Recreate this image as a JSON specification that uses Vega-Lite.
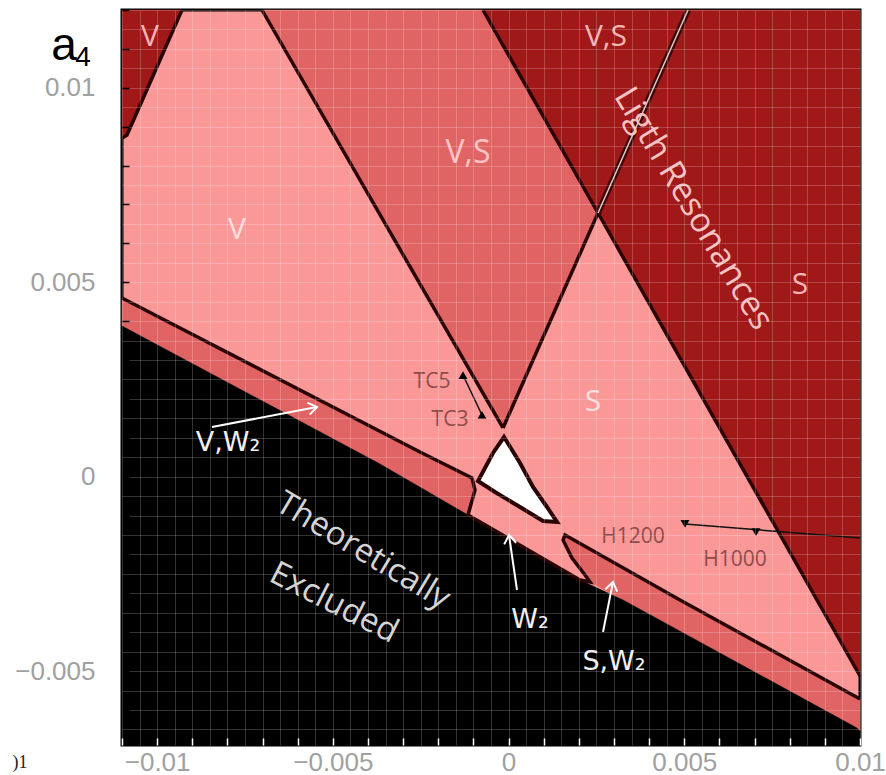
{
 "$schema": "https://vega.github.io/schema/vega-lite/v6.json",
 "width": 738, "height": 735,
 "autosize": {"type": "none"},
 "padding": {"left": 122, "top": 10, "right": 26, "bottom": 30},
 "background": "white",
 "view": {"fill": "#FA9898", "stroke": "#000000", "strokeWidth": 3},
 "datasets": {
  "regions": [
   {"region": "dark", "order": 1, "x": -0.000728, "y": 0.012},
   {"region": "dark", "order": 2, "x": 0.010, "y": 0.012},
   {"region": "dark", "order": 3, "x": 0.010, "y": -0.005126},
   {"region": "dark", "order": 4, "x": 0.002545, "y": 0.006780},
   {"region": "tl", "order": 1, "x": -0.011, "y": 0.012},
   {"region": "tl", "order": 2, "x": -0.009293, "y": 0.012},
   {"region": "tl", "order": 3, "x": -0.010858, "y": 0.008786},
   {"region": "tl", "order": 4, "x": -0.011, "y": 0.008700},
   {"region": "vs", "order": 1, "x": -0.007016, "y": 0.012},
   {"region": "vs", "order": 2, "x": -0.000728, "y": 0.012},
   {"region": "vs", "order": 3, "x": 0.002545, "y": 0.006780},
   {"region": "vs", "order": 4, "x": -0.000159, "y": 0.001252},
   {"region": "vw", "order": 1, "x": -0.011, "y": 0.004594},
   {"region": "vw", "order": 2, "x": -0.002520, "y": 0.000634},
   {"region": "vw", "order": 3, "x": -0.001041, "y": -0.000034},
   {"region": "vw", "order": 4, "x": -0.000955, "y": -0.000343},
   {"region": "vw", "order": 5, "x": -0.001155, "y": -0.000986},
   {"region": "vw", "order": 6, "x": -0.003659, "y": 0.000326},
   {"region": "vw", "order": 7, "x": -0.011, "y": 0.003874},
   {"region": "sw", "order": 1, "x": 0.001606, "y": -0.0015},
   {"region": "sw", "order": 2, "x": 0.004878, "y": -0.003171},
   {"region": "sw", "order": 3, "x": 0.010, "y": -0.005717},
   {"region": "sw", "order": 4, "x": 0.010, "y": -0.006540},
   {"region": "sw", "order": 5, "x": 0.003256, "y": -0.003171},
   {"region": "sw", "order": 6, "x": 0.002317, "y": -0.002708},
   {"region": "sw", "order": 7, "x": 0.002175, "y": -0.002528},
   {"region": "sw", "order": 8, "x": 0.001805, "y": -0.002091},
   {"region": "sw", "order": 9, "x": 0.001549, "y": -0.001628},
   {"region": "black", "order": 1, "x": -0.011, "y": 0.003874},
   {"region": "black", "order": 2, "x": -0.003659, "y": 0.000326},
   {"region": "black", "order": 3, "x": 0.002032, "y": -0.002657},
   {"region": "black", "order": 4, "x": 0.003256, "y": -0.003171},
   {"region": "black", "order": 5, "x": 0.009914, "y": -0.006463},
   {"region": "black", "order": 6, "x": 0.010, "y": -0.006540},
   {"region": "black", "order": 7, "x": 0.010, "y": -0.0069},
   {"region": "black", "order": 8, "x": -0.011, "y": -0.0069},
   {"region": "hole", "order": 1, "x": -0.000130, "y": 0.001020},
   {"region": "hole", "order": 2, "x": 0.000325, "y": 0.000352},
   {"region": "hole", "order": 3, "x": 0.000695, "y": -0.000266},
   {"region": "hole", "order": 4, "x": 0.001093, "y": -0.000780},
   {"region": "hole", "order": 5, "x": 0.001378, "y": -0.001166},
   {"region": "hole", "order": 6, "x": 0.000980, "y": -0.001140},
   {"region": "hole", "order": 7, "x": 0.000325, "y": -0.000780},
   {"region": "hole", "order": 8, "x": -0.000386, "y": -0.000394},
   {"region": "hole", "order": 9, "x": -0.000870, "y": -0.000111},
   {"region": "hole", "order": 10, "x": -0.000443, "y": 0.000609}
  ],
  "lines": [
   {"line": "L1", "order": 1, "x": -0.007016, "y": 0.012},
   {"line": "L1", "order": 2, "x": -0.000159, "y": 0.001252},
   {"line": "L2", "order": 1, "x": -0.000728, "y": 0.012},
   {"line": "L2", "order": 2, "x": 0.002545, "y": 0.006780},
   {"line": "L3", "order": 1, "x": -0.000159, "y": 0.001252},
   {"line": "L3", "order": 2, "x": 0.002545, "y": 0.006780},
   {"line": "L4", "order": 1, "x": 0.002545, "y": 0.006780},
   {"line": "L4", "order": 2, "x": 0.010, "y": -0.005126},
   {"line": "L5", "order": 1, "x": -0.009293, "y": 0.012},
   {"line": "L5", "order": 2, "x": -0.010858, "y": 0.008786},
   {"line": "L5", "order": 3, "x": -0.011, "y": 0.008700},
   {"line": "L6", "order": 1, "x": -0.011, "y": 0.004594},
   {"line": "L6", "order": 2, "x": -0.002520, "y": 0.000634},
   {"line": "L6", "order": 3, "x": -0.001041, "y": -0.000034},
   {"line": "L6", "order": 4, "x": -0.000955, "y": -0.000343},
   {"line": "L6", "order": 5, "x": -0.001155, "y": -0.000986},
   {"line": "L6", "order": 6, "x": 0.002032, "y": -0.002657},
   {"line": "L6", "order": 7, "x": 0.002317, "y": -0.002708},
   {"line": "L6", "order": 8, "x": 0.002175, "y": -0.002528},
   {"line": "L6", "order": 9, "x": 0.001805, "y": -0.002091},
   {"line": "L6", "order": 10, "x": 0.001549, "y": -0.001628},
   {"line": "L6", "order": 11, "x": 0.001606, "y": -0.0015},
   {"line": "L6", "order": 12, "x": 0.004878, "y": -0.003171},
   {"line": "L6", "order": 13, "x": 0.010, "y": -0.005717}
  ],
  "resonance": [
   {"order": 1, "x": 0.005106, "y": 0.012},
   {"order": 2, "x": 0.002545, "y": 0.006780}
  ],
  "pointers": [
   {"pointer": "tc", "order": 1, "x": -0.001297, "y": 0.002614},
   {"pointer": "tc", "order": 2, "x": -0.000756, "y": 0.001586},
   {"pointer": "h", "order": 1, "x": 0.005020, "y": -0.001217},
   {"pointer": "h", "order": 2, "x": 0.010, "y": -0.001577}
  ],
  "arrows": [
   {"arrow": "avw", "order": 1, "x": -0.008439, "y": 0.001277},
   {"arrow": "avw", "order": 2, "x": -0.005451, "y": 0.001792},
   {"arrow": "aw2", "order": 1, "x": 0.000240, "y": -0.002914},
   {"arrow": "aw2", "order": 2, "x": 0.000012, "y": -0.0015},
   {"arrow": "asw", "order": 1, "x": 0.002687, "y": -0.003994},
   {"arrow": "asw", "order": 2, "x": 0.002971, "y": -0.002708}
  ],
  "markers": [
   {"marker": "TC5", "dir": "up", "x": -0.001297, "y": 0.002614},
   {"marker": "TC3", "dir": "up", "x": -0.000756, "y": 0.001586},
   {"marker": "H1200", "dir": "down", "x": 0.005020, "y": -0.001217},
   {"marker": "H1000", "dir": "down", "x": 0.007040, "y": -0.001423}
  ],
  "labels": [
   {"label": "V", "kind": "dk", "x": -0.010203, "y": 0.011306},
   {"label": "V,S", "kind": "dk", "x": 0.002772, "y": 0.011306},
   {"label": "S", "kind": "dk", "x": 0.008292, "y": 0.004929},
   {"label": "V,S", "kind": "md", "x": -0.001155, "y": 0.008323},
   {"label": "V", "kind": "lt", "x": -0.007728, "y": 0.006343},
   {"label": "S", "kind": "lt", "x": 0.002402, "y": 0.001920},
   {"label": "Ligth Resonances", "kind": "res", "x": 0.005248, "y": 0.006883},
   {"label": "Theoretically", "kind": "th", "x": -0.004142, "y": -0.001911},
   {"label": "Excluded", "kind": "ex", "x": -0.004968, "y": -0.003248},
   {"label": "TC5", "kind": "code", "x": -0.002179, "y": 0.002434},
   {"label": "TC3", "kind": "code", "x": -0.001667, "y": 0.001457},
   {"label": "H1200", "kind": "code", "x": 0.003541, "y": -0.001551},
   {"label": "H1000", "kind": "code", "x": 0.006443, "y": -0.002143},
   {"label": "V,W₂", "kind": "wh", "x": -0.007984, "y": 0.000866},
   {"label": "W₂", "kind": "wh", "x": 0.000610, "y": -0.003686},
   {"label": "S,W₂", "kind": "wh", "x": 0.003000, "y": -0.004766},
   {"label": "a", "kind": "a", "x": -0.012650, "y": 0.011074},
   {"label": "4", "kind": "sub", "x": -0.012110, "y": 0.010766},
   {"label": ")1", "kind": "frag", "x": -0.013900, "y": -0.007360}
  ]
 },
 "encoding": {
  "x": {"field": "x", "type": "quantitative",
   "scale": {"domain": [-0.011, 0.01], "nice": false, "zero": false},
   "axis": {"title": null, "zindex": 1, "domain": false,
    "values": [-0.011,-0.0105,-0.01,-0.0095,-0.009,-0.0085,-0.008,-0.0075,-0.007,-0.0065,-0.006,-0.0055,-0.005,-0.0045,-0.004,-0.0035,-0.003,-0.0025,-0.002,-0.0015,-0.001,-0.0005,0,0.0005,0.001,0.0015,0.002,0.0025,0.003,0.0035,0.004,0.0045,0.005,0.0055,0.006,0.0065,0.007,0.0075,0.008,0.0085,0.009,0.0095,0.01],
    "grid": true, "gridColor": "#ffffff", "gridOpacity": 0.2, "gridWidth": 1,
    "tickColor": "#ffffff", "tickSize": -7, "tickWidth": 1.5,
    "tickOpacity": {"condition": {"test": "abs(datum.value*1000 - round(datum.value*1000)) < 0.01", "value": 1}, "value": 0},
    "labelExpr": "abs(datum.value*200 - round(datum.value*200)) < 0.001 ? format(datum.value, '~g') : ''",
    "labelOverlap": false, "labelFlush": false, "labelFont": "Liberation Sans", "labelFontSize": 26,
    "labelColor": "#a0a0a0", "labelPadding": 11}},
  "y": {"field": "y", "type": "quantitative",
   "scale": {"domain": [-0.0069, 0.012], "nice": false, "zero": false},
   "axis": {"title": null, "zindex": 1, "domain": false,
    "values": [-0.0065,-0.006,-0.0055,-0.005,-0.0045,-0.004,-0.0035,-0.003,-0.0025,-0.002,-0.0015,-0.001,-0.0005,0,0.0005,0.001,0.0015,0.002,0.0025,0.003,0.0035,0.004,0.0045,0.005,0.0055,0.006,0.0065,0.007,0.0075,0.008,0.0085,0.009,0.0095,0.01,0.0105,0.011,0.0115,0.012],
    "grid": true, "gridColor": "#ffffff", "gridOpacity": 0.2, "gridWidth": 1,
    "tickColor": "#000000", "tickSize": -7, "tickWidth": 1.5,
    "tickOpacity": {"condition": {"test": "abs(datum.value*1000 - round(datum.value*1000)) < 0.01", "value": 1}, "value": 0},
    "labelExpr": "abs(datum.value*200 - round(datum.value*200)) < 0.001 ? format(datum.value, '~g') : ''",
    "labelOverlap": false, "labelFlush": false, "labelFont": "Liberation Sans", "labelFontSize": 26,
    "labelColor": "#a0a0a0", "labelPadding": 34}}
 },
 "layer": [
  {"data": {"name": "regions"}, "transform": [{"filter": "datum.region === 'dark'"}],
   "mark": {"type": "line", "interpolate": "linear-closed", "fill": "#A01818", "stroke": "#A01818", "strokeWidth": 0.5},
   "encoding": {"order": {"field": "order"}}},
  {"data": {"name": "regions"}, "transform": [{"filter": "datum.region === 'tl'"}],
   "mark": {"type": "line", "interpolate": "linear-closed", "fill": "#A01818", "stroke": "#A01818", "strokeWidth": 0.5},
   "encoding": {"order": {"field": "order"}}},
  {"data": {"name": "regions"}, "transform": [{"filter": "datum.region === 'vs' || datum.region === 'vw' || datum.region === 'sw'"}],
   "mark": {"type": "line", "interpolate": "linear-closed", "fill": "#E06464", "stroke": "#E06464", "strokeWidth": 0.5},
   "encoding": {"order": {"field": "order"}, "detail": {"field": "region"}}},
  {"data": {"name": "regions"}, "transform": [{"filter": "datum.region === 'black'"}],
   "mark": {"type": "line", "interpolate": "linear-closed", "fill": "#000000", "stroke": "#000000", "strokeWidth": 0.5},
   "encoding": {"order": {"field": "order"}}},
  {"data": {"name": "lines"},
   "mark": {"type": "line", "stroke": "#2a0404", "strokeWidth": 3.5},
   "encoding": {"order": {"field": "order"}, "detail": {"field": "line"}}},
  {"data": {"name": "regions"}, "transform": [{"filter": "datum.region === 'hole'"}],
   "mark": {"type": "line", "interpolate": "linear-closed", "fill": "#ffffff", "stroke": "#2a0404", "strokeWidth": 4},
   "encoding": {"order": {"field": "order"}}},
  {"data": {"name": "resonance"},
   "mark": {"type": "line", "stroke": "#3a0808", "strokeWidth": 6},
   "encoding": {"order": {"field": "order"}}},
  {"data": {"name": "resonance"},
   "mark": {"type": "line", "stroke": "#e6c4c4", "strokeWidth": 1.5},
   "encoding": {"order": {"field": "order"}}},
  {"data": {"name": "pointers"},
   "mark": {"type": "line", "stroke": "#111111", "strokeWidth": 1.5},
   "encoding": {"order": {"field": "order"}, "detail": {"field": "pointer"}}},
  {"data": {"name": "markers"}, "transform": [{"filter": "datum.dir === 'up'"}],
   "mark": {"type": "point", "shape": "triangle-up", "filled": true, "color": "#000000", "size": 80, "opacity": 1}},
  {"data": {"name": "markers"}, "transform": [{"filter": "datum.dir === 'down'"}],
   "mark": {"type": "point", "shape": "triangle-down", "filled": true, "color": "#000000", "size": 80, "opacity": 1}},
  {"data": {"name": "arrows"},
   "mark": {"type": "line", "stroke": "#ffffff", "strokeWidth": 2},
   "encoding": {"order": {"field": "order"}, "detail": {"field": "arrow"}}},
  {"data": {"name": "arrows"}, "transform": [{"filter": "datum.arrow === 'avw' && datum.order === 2"}],
   "mark": {"type": "point", "shape": "M-0.7,1L0,0L0.7,1", "filled": false, "stroke": "#ffffff", "strokeWidth": 2, "size": 300, "angle": 79, "opacity": 1}},
  {"data": {"name": "arrows"}, "transform": [{"filter": "datum.arrow === 'aw2' && datum.order === 2"}],
   "mark": {"type": "point", "shape": "M-0.7,1L0,0L0.7,1", "filled": false, "stroke": "#ffffff", "strokeWidth": 2, "size": 300, "angle": 352, "opacity": 1}},
  {"data": {"name": "arrows"}, "transform": [{"filter": "datum.arrow === 'asw' && datum.order === 2"}],
   "mark": {"type": "point", "shape": "M-0.7,1L0,0L0.7,1", "filled": false, "stroke": "#ffffff", "strokeWidth": 2, "size": 300, "angle": 11, "opacity": 1}},
  {"data": {"name": "labels"}, "transform": [{"filter": "datum.kind === 'dk'"}],
   "mark": {"type": "text", "font": "Open Sans", "fontSize": 30, "color": "#f2b4b4", "align": "center", "baseline": "middle"},
   "encoding": {"text": {"field": "label"}}},
  {"data": {"name": "labels"}, "transform": [{"filter": "datum.kind === 'md'"}],
   "mark": {"type": "text", "font": "Open Sans", "fontSize": 32, "color": "#fbc4c4", "align": "center", "baseline": "middle"},
   "encoding": {"text": {"field": "label"}}},
  {"data": {"name": "labels"}, "transform": [{"filter": "datum.kind === 'lt'"}],
   "mark": {"type": "text", "font": "Open Sans", "fontSize": 30, "color": "#ffdede", "align": "center", "baseline": "middle"},
   "encoding": {"text": {"field": "label"}}},
  {"data": {"name": "labels"}, "transform": [{"filter": "datum.kind === 'res'"}],
   "mark": {"type": "text", "font": "Open Sans", "fontSize": 34, "color": "#f4c2c2", "align": "center", "baseline": "middle", "angle": 59},
   "encoding": {"text": {"field": "label"}}},
  {"data": {"name": "labels"}, "transform": [{"filter": "datum.kind === 'th'"}],
   "mark": {"type": "text", "font": "Open Sans", "fontSize": 33, "color": "#d4d4d4", "align": "center", "baseline": "middle", "angle": 31},
   "encoding": {"text": {"field": "label"}}},
  {"data": {"name": "labels"}, "transform": [{"filter": "datum.kind === 'ex'"}],
   "mark": {"type": "text", "font": "Open Sans", "fontSize": 33, "color": "#d4d4d4", "align": "center", "baseline": "middle", "angle": 27},
   "encoding": {"text": {"field": "label"}}},
  {"data": {"name": "labels"}, "transform": [{"filter": "datum.kind === 'code'"}],
   "mark": {"type": "text", "font": "Open Sans", "fontSize": 21, "color": "#8e4a4a", "align": "center", "baseline": "middle"},
   "encoding": {"text": {"field": "label"}}},
  {"data": {"name": "labels"}, "transform": [{"filter": "datum.kind === 'wh'"}],
   "mark": {"type": "text", "font": "DejaVu Sans", "fontSize": 27, "color": "#f0f0f0", "align": "center", "baseline": "middle"},
   "encoding": {"text": {"field": "label"}}},
  {"data": {"name": "labels"}, "transform": [{"filter": "datum.kind === 'a'"}],
   "mark": {"type": "text", "font": "Liberation Sans", "fontSize": 46, "color": "#000000", "align": "center", "baseline": "middle"},
   "encoding": {"text": {"field": "label"}}},
  {"data": {"name": "labels"}, "transform": [{"filter": "datum.kind === 'sub'"}],
   "mark": {"type": "text", "font": "Liberation Sans", "fontSize": 28, "color": "#000000", "align": "center", "baseline": "middle"},
   "encoding": {"text": {"field": "label"}}},
  {"data": {"name": "labels"}, "transform": [{"filter": "datum.kind === 'frag'"}],
   "mark": {"type": "text", "font": "Liberation Serif", "fontSize": 18, "color": "#222222", "align": "center", "baseline": "middle"},
   "encoding": {"text": {"field": "label"}}}
 ]
}
